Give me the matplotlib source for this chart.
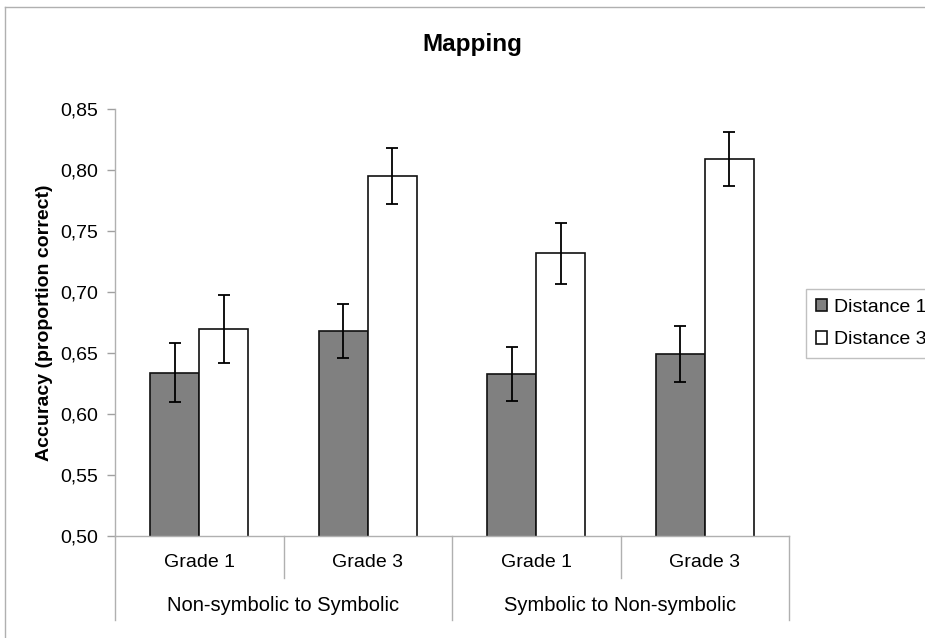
import matplotlib.pyplot as plt
import matplotlib.transforms as mtransforms
from matplotlib.lines import Line2D
from matplotlib.ticker import FuncFormatter
import numpy as np

plt.rcParams['font.family'] = ['Liberation Sans', 'DejaVu Sans']

# data
grades = ['Grade 1', 'Grade 3', 'Grade 1', 'Grade 3']
tasks = ['Non-symbolic to Symbolic', 'Symbolic to Non-symbolic']
dist1 = [0.634, 0.668, 0.633, 0.649]
dist3 = [0.670, 0.795, 0.732, 0.809]
err1 = [0.024, 0.022, 0.022, 0.023]
err3 = [0.028, 0.023, 0.025, 0.022]

W, H = 925, 638
fig = plt.figure(figsize=(W / 100, H / 100), dpi=100)
ax = fig.add_axes([115 / W, 1 - 536 / H, (789 - 115) / W, (536 - 109.3) / H])

x = np.arange(len(grades))
bw = 0.29
ekw = dict(ecolor='black', elinewidth=1.3, capsize=4.2, capthick=1.3)
ax.bar(x - bw / 2, dist1, bw, color='#808080', edgecolor='#111111', linewidth=1.2,
       yerr=err1, error_kw=ekw, label='Distance 1', zorder=2)
ax.bar(x + bw / 2, dist3, bw, color='white', edgecolor='#111111', linewidth=1.2,
       yerr=err3, error_kw=ekw, label='Distance 3', zorder=2)

ax.set_ylim(0.50, 0.85)
ax.set_xlim(-0.5, len(grades) - 0.5)
ax.set_yticks(np.arange(0.50, 0.851, 0.05))
ax.yaxis.set_major_formatter(FuncFormatter(lambda v, p: f'{v:.2f}'.replace('.', ',')))
ax.tick_params(axis='y', labelsize=14, colors='#a0a0a0', labelcolor='black',
               length=6, width=1, pad=6.5)
ax.set_xticks([])

for s in ['top', 'right']:
    ax.spines[s].set_visible(False)
for s in ['left', 'bottom']:
    ax.spines[s].set_color('#b0b0b0')
    ax.spines[s].set_linewidth(1)

ax.set_ylabel('Accuracy (proportion correct)', fontsize=14, fontweight='bold', labelpad=5)

# two-level category axis
trans = mtransforms.blended_transform_factory(ax.transData, ax.transAxes)
for i, g in enumerate(grades):
    ax.text(i, -0.063, g, transform=trans, ha='center', va='center', fontsize=14)
for j, t in enumerate(tasks):
    ax.text(2 * j + 0.5, -0.164, t, transform=trans, ha='center', va='center', fontsize=14.5)
for b in [-0.5, 0.5, 1.5, 2.5, 3.5]:
    depth = 0.197 if b in (-0.5, 1.5, 3.5) else 0.098
    ax.add_line(Line2D([b, b], [0, -depth], transform=trans, color='#b0b0b0',
                       linewidth=1, clip_on=False))

fig.text(472 / W, 1 - 45 / H, 'Mapping', ha='center', va='center',
         fontsize=17.5, fontweight='bold')

fig.legend(loc='upper left', bbox_to_anchor=(806 / W, 1 - 289 / H), fontsize=14,
           frameon=True, fancybox=False, edgecolor='#c0c0c0', framealpha=1,
           handlelength=0.6, handleheight=0.6, handletextpad=0.35,
           borderpad=0.5, labelspacing=0.8, borderaxespad=0)

# chart area border (right and bottom edges are cut off in the reference)
fig.add_artist(Line2D([5 / W, 1], [1 - 7 / H, 1 - 7 / H], transform=fig.transFigure,
                      color='#b0b0b0', linewidth=1))
fig.add_artist(Line2D([5 / W, 5 / W], [0, 1 - 7 / H], transform=fig.transFigure,
                      color='#b0b0b0', linewidth=1))

fig.savefig('out.png', dpi=100)
